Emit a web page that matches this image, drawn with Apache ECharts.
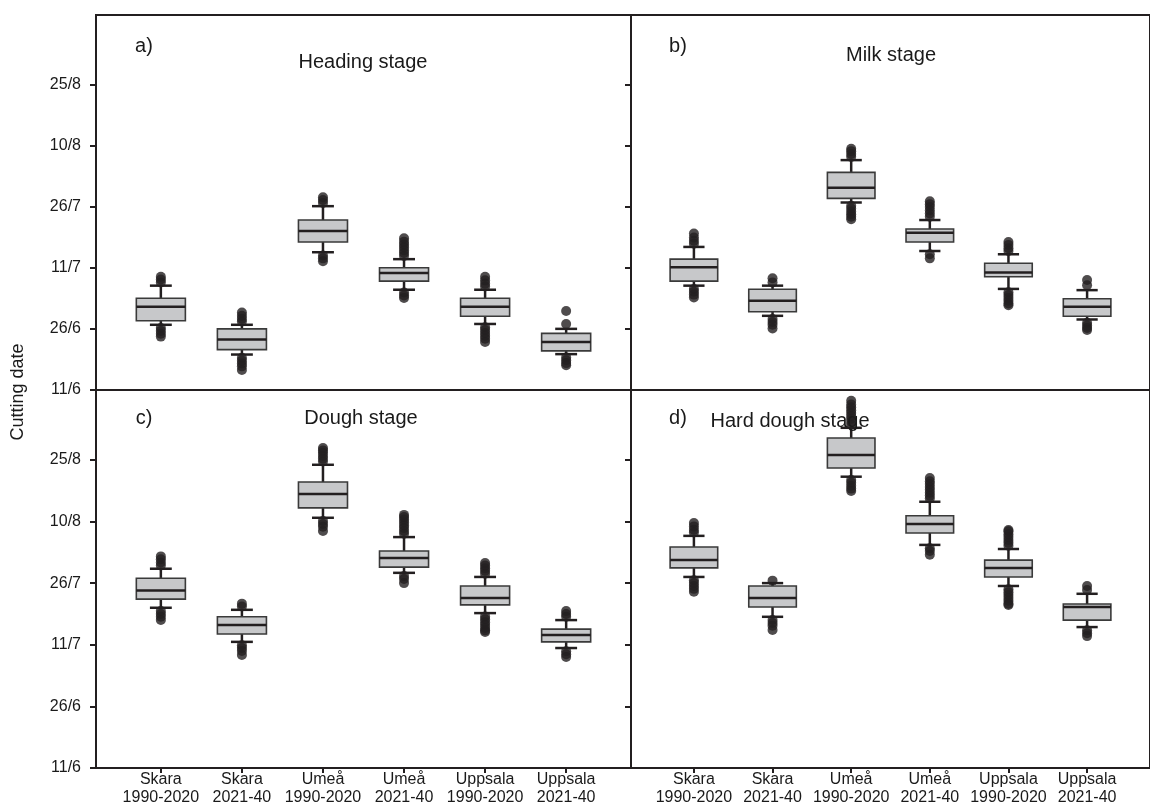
<!DOCTYPE html>
<html>
<head>
<meta charset="utf-8">
<title>Cutting date by maturity stage</title>
<script src="https://cdn.jsdelivr.net/npm/echarts@6/dist/echarts.min.js"></script>
<style>
  html, body { margin: 0; padding: 0; background: #fff; }
  #chart { width: 1150px; height: 807px; }
</style>
</head>
<body>
<div id="chart"></div>
<script>
// Values are days after 11 June; the axis runs from 11/6 to 11/9.
const categories = ['Skara\n1990-2020', 'Skara\n2021-40', 'Umeå\n1990-2020', 'Umeå\n2021-40', 'Uppsala\n1990-2020', 'Uppsala\n2021-40'];
const categoryPositions = [1, 2, 3, 4, 5, 6];
const yTickValues = [0, 15, 30, 45, 60, 75];
const yTickLabels = ['11/6', '26/6', '11/7', '26/7', '10/8', '25/8'];
const yMax = 92;

const panelLetters = ['a)', 'b)', 'c)', 'd)'];
const panelTitles = ['Heading stage', 'Milk stage', 'Dough stage', 'Hard dough stage'];

// [lower whisker, Q1, median, Q3, upper whisker]
const headingBoxes = [
  [16.0, 17.0, 20.4, 22.5, 25.6],
  [8.7, 9.9, 12.4, 15.0, 16.0],
  [33.8, 36.3, 39.0, 41.7, 45.1],
  [24.6, 26.7, 28.7, 30.0, 32.1],
  [16.2, 18.1, 20.4, 22.5, 24.6],
  [8.8, 9.6, 11.8, 13.9, 15.0]
];
const headingOutliers = [
  [26.4, 27.1, 27.8, 15.2, 14.5, 13.8, 13.1],
  [16.8, 17.5, 18.2, 19.0, 7.9, 7.2, 6.5, 5.8, 4.9],
  [45.9, 46.6, 47.3, 33.0, 32.3, 31.6],
  [32.9, 33.6, 34.3, 35.0, 35.7, 36.4, 37.2, 23.9, 23.2, 22.6],
  [25.4, 26.1, 26.9, 27.8, 15.4, 14.7, 14.0, 13.3, 12.6, 11.8],
  [16.2, 19.4, 8.0, 7.3, 6.6, 6.1]
];

const milkBoxes = [
  [25.6, 26.7, 30.1, 32.1, 35.1],
  [18.2, 19.2, 21.9, 24.7, 25.6],
  [46.0, 47.0, 49.6, 53.4, 56.4],
  [34.1, 36.3, 38.6, 39.5, 41.7],
  [24.8, 27.8, 28.8, 31.1, 33.3],
  [17.3, 18.1, 20.4, 22.4, 24.5]
];
const milkOutliers = [
  [35.9, 36.6, 37.4, 38.4, 24.8, 24.1, 23.4, 22.7],
  [26.4, 27.4, 17.4, 16.7, 16.0, 15.1],
  [57.2, 57.9, 58.6, 59.2, 45.2, 44.5, 43.8, 43.1, 42.5, 41.9],
  [42.5, 43.3, 44.1, 44.9, 45.6, 46.3, 33.3, 32.3],
  [34.1, 34.8, 35.6, 36.3, 24.0, 23.3, 22.6, 21.9, 21.2, 20.8],
  [25.7, 27.0, 16.5, 15.8, 15.2, 14.7]
];

const doughBoxes = [
  [39.0, 41.1, 43.2, 46.2, 48.5],
  [30.7, 32.6, 34.8, 36.8, 38.5],
  [60.9, 63.3, 66.7, 69.6, 73.8],
  [47.5, 48.9, 51.1, 52.8, 56.2],
  [37.7, 39.7, 41.4, 44.3, 46.5],
  [29.2, 30.7, 32.4, 33.8, 36.0]
];
const doughOutliers = [
  [49.3, 50.0, 50.8, 51.5, 38.2, 37.5, 36.8, 36.0],
  [39.3, 40.0, 29.9, 29.2, 28.5, 27.5],
  [74.6, 75.3, 76.0, 76.7, 77.3, 77.9, 60.1, 59.4, 58.7, 57.7],
  [57.0, 57.7, 58.4, 59.1, 59.8, 60.5, 61.1, 61.6, 46.7, 46.0, 45.0],
  [47.3, 48.0, 48.6, 49.3, 49.9, 36.9, 36.2, 35.5, 34.8, 34.1, 33.5, 33.1],
  [36.8, 37.5, 38.2, 28.4, 27.7, 27.0]
];

const hardDoughBoxes = [
  [46.5, 48.7, 50.6, 53.8, 56.5],
  [36.8, 39.2, 41.4, 44.3, 45.0],
  [70.9, 73.0, 76.2, 80.3, 82.8],
  [54.3, 57.2, 59.4, 61.4, 64.8],
  [44.3, 46.5, 48.7, 50.6, 53.3],
  [34.3, 36.0, 39.2, 39.9, 42.4]
];
const hardDoughOutliers = [
  [57.3, 58.0, 58.8, 59.6, 45.7, 45.0, 44.3, 43.6, 42.9],
  [45.6, 36.0, 35.3, 34.6, 33.6],
  [83.6, 84.3, 85.0, 85.7, 86.4, 87.1, 87.8, 88.5, 89.4, 70.1, 69.4, 68.7, 68.0, 67.4],
  [65.6, 66.3, 67.0, 67.7, 68.4, 69.1, 69.8, 70.6, 53.5, 52.8, 51.9],
  [54.1, 54.8, 55.5, 56.2, 56.9, 57.6, 57.9, 43.5, 42.8, 42.1, 41.4, 40.7, 40.0, 39.7],
  [43.3, 44.3, 33.5, 32.8, 32.1]
];

const panelBoxes = [headingBoxes, milkBoxes, doughBoxes, hardDoughBoxes];
const panelOutliers = [headingOutliers, milkOutliers, doughOutliers, hardDoughOutliers];

const FONT = '"Liberation Sans", Arial, Helvetica, sans-serif';
const INK = '#231f20';
const TEXT = '#1a1a1a';

const chart = echarts.init(document.getElementById('chart'), null, { renderer: 'canvas' });

// Panel frames: a b on the top row, c d on the bottom row
const grids = [
  { left: 96, top: 15, width: 535, height: 375 },
  { left: 631, top: 15, width: 535, height: 375 },
  { left: 96, top: 390, width: 535, height: 378 },
  { left: 631, top: 390, width: 535, height: 378 }
].map(g => Object.assign(g, {
  show: true, borderColor: INK, borderWidth: 2, backgroundColor: 'transparent', containLabel: false
}));

const xAxes = grids.map((g, i) => ({
  type: 'value', gridIndex: i, min: 0.2, max: 6.8,
  splitLine: { show: false },
  axisLine: { show: false },
  axisTick: {
    show: i >= 2, customValues: categoryPositions, length: 5,
    lineStyle: { color: INK, width: 2 }
  },
  axisLabel: {
    show: i >= 2, customValues: categoryPositions, margin: 3,
    color: TEXT, fontFamily: FONT, fontSize: 16, lineHeight: 18,
    formatter: v => categories[categoryPositions.indexOf(Math.round(v))] || ''
  }
}));

const yAxes = grids.map((g, i) => ({
  type: 'value', gridIndex: i, min: 0, max: yMax,
  splitLine: { show: false },
  axisLine: { show: false },
  axisTick: {
    show: true, customValues: yTickValues, length: 6,
    lineStyle: { color: INK, width: 2 }
  },
  axisLabel: {
    show: i % 2 === 0, customValues: yTickValues, margin: 15,
    color: TEXT, fontFamily: FONT, fontSize: 16,
    formatter: v => yTickLabels[yTickValues.indexOf(Math.round(v))] || ''
  }
}));

function renderBox(params, api) {
  const x = api.value(0);
  const lo = api.coord([x, api.value(1)]);
  const q1 = api.coord([x, api.value(2)]);
  const med = api.coord([x, api.value(3)]);
  const q3 = api.coord([x, api.value(4)]);
  const hi = api.coord([x, api.value(5)]);
  const halfBox = api.size([0.605, 0])[0] / 2;
  const halfCap = api.size([0.27, 0])[0] / 2;
  const cx = lo[0];
  const whisker = { stroke: INK, lineWidth: 2.5 };
  return {
    type: 'group',
    children: [
      { type: 'line', shape: { x1: cx, y1: lo[1], x2: cx, y2: q1[1] }, style: whisker },
      { type: 'line', shape: { x1: cx, y1: q3[1], x2: cx, y2: hi[1] }, style: whisker },
      { type: 'line', shape: { x1: cx - halfCap, y1: lo[1], x2: cx + halfCap, y2: lo[1] }, style: whisker },
      { type: 'line', shape: { x1: cx - halfCap, y1: hi[1], x2: cx + halfCap, y2: hi[1] }, style: whisker },
      {
        type: 'rect',
        shape: { x: cx - halfBox, y: q3[1], width: halfBox * 2, height: q1[1] - q3[1] },
        style: { fill: '#c7c8ca', stroke: '#3a3a3a', lineWidth: 1.6 }
      },
      { type: 'line', shape: { x1: cx - halfBox, y1: med[1], x2: cx + halfBox, y2: med[1] }, style: { stroke: INK, lineWidth: 2.5 } }
    ]
  };
}

const series = [];
panelBoxes.forEach((boxes, p) => {
  const pts = [];
  panelOutliers[p].forEach((vals, c) => vals.forEach(v => pts.push([categoryPositions[c], v])));
  series.push({
    type: 'scatter', xAxisIndex: p, yAxisIndex: p, data: pts,
    symbol: 'circle', symbolSize: 10, itemStyle: { color: INK }, silent: true, z: 2
  });
  series.push({
    type: 'custom', xAxisIndex: p, yAxisIndex: p,
    data: boxes.map((b, c) => [categoryPositions[c]].concat(b)),
    renderItem: renderBox, silent: true, z: 3
  });
});

// Panel letters and stage names
const letterAnchors = [[144, 46], [678, 46], [144, 418], [678, 418]];
const titleAnchors = [[363, 62], [891, 55], [361, 418], [790, 421]];
const labels = [];
panelLetters.forEach((t, i) => labels.push({
  type: 'text', x: letterAnchors[i][0], y: letterAnchors[i][1], z: 10,
  style: { text: t, font: '20px ' + FONT, fill: TEXT, textAlign: 'center', textVerticalAlign: 'middle' }
}));
panelTitles.forEach((t, i) => labels.push({
  type: 'text', x: titleAnchors[i][0], y: titleAnchors[i][1], z: 10,
  style: { text: t, font: '20px ' + FONT, fill: TEXT, textAlign: 'center', textVerticalAlign: 'middle' }
}));
labels.push({
  type: 'text', x: 18, y: 392, rotation: Math.PI / 2, z: 10,
  style: { text: 'Cutting date', font: '18px ' + FONT, fill: TEXT, textAlign: 'center', textVerticalAlign: 'middle' }
});

chart.setOption({
  animation: false,
  backgroundColor: '#ffffff',
  grid: grids,
  xAxis: xAxes,
  yAxis: yAxes,
  series: series,
  graphic: labels
});
</script>
</body>
</html>
